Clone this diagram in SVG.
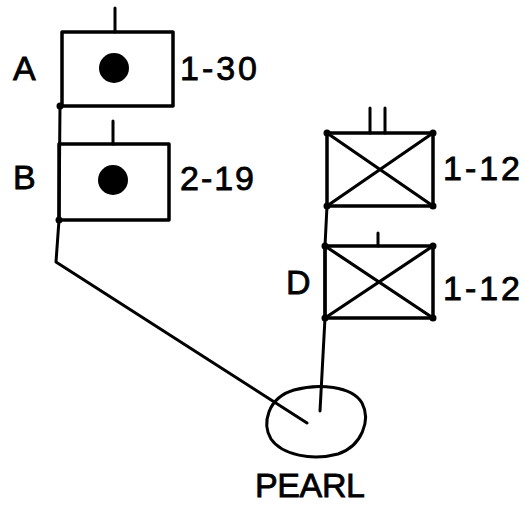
<svg xmlns="http://www.w3.org/2000/svg" width="526" height="508" viewBox="0 0 526 508">
<style>
.box{fill:none;stroke:#000;stroke-width:3.5;stroke-linejoin:round}
.ln{fill:none;stroke:#000;stroke-width:3;stroke-linecap:round;stroke-linejoin:round}
.x{stroke:#000;stroke-width:3.2;stroke-linecap:round}
.dot{fill:#000}
.t{font-family:"Liberation Sans",Arial,sans-serif;font-size:34px;fill:#000;stroke:#000;stroke-width:0.8}
</style>
<rect width="526" height="508" fill="#fff"/>
<g id="connectors">
<path class="ln" d="M60,106 L59,220 L56,262 L307,423"/>
<path class="ln" d="M327,206 L325,246 L325,318 L320,411"/>
</g>
<g id="A">
<rect class="box" x="62" y="32" width="111" height="74"/>
<line class="ln" x1="115" y1="8" x2="115" y2="32"/>
<circle class="dot" cx="114" cy="68" r="15"/>
<circle class="dot" cx="60" cy="106" r="3.5"/>
<text class="t" x="13" y="80">A</text>
<text class="t" x="180" y="80" textLength="77">1-30</text>
</g>
<g id="B">
<rect class="box" x="59" y="144" width="110" height="76"/>
<line class="ln" x1="113" y1="121" x2="113" y2="144"/>
<circle class="dot" cx="113" cy="180" r="15"/>
<circle class="dot" cx="59" cy="220" r="3.5"/>
<text class="t" x="13" y="189">B</text>
<text class="t" x="180" y="190" textLength="74">2-19</text>
</g>
<g id="C">
<rect class="box" x="327" y="133" width="106" height="73"/>
<line class="x" x1="327" y1="133" x2="433" y2="206"/>
<line class="x" x1="327" y1="206" x2="433" y2="133"/>
<line class="ln" x1="370" y1="108" x2="370" y2="133"/>
<line class="ln" x1="385" y1="108" x2="385" y2="133"/>
<circle class="dot" cx="327" cy="133" r="3.5"/>
<circle class="dot" cx="433" cy="133" r="3.5"/>
<circle class="dot" cx="327" cy="206" r="3.5"/>
<circle class="dot" cx="433" cy="206" r="3.5"/>
<text class="t" x="443" y="180" textLength="77">1-12</text>
</g>
<g id="D">
<rect class="box" x="325" y="246" width="108" height="72"/>
<line class="x" x1="325" y1="246" x2="433" y2="318"/>
<line class="x" x1="325" y1="318" x2="433" y2="246"/>
<line class="ln" x1="378" y1="233" x2="378" y2="246"/>
<circle class="dot" cx="325" cy="246" r="3.5"/>
<circle class="dot" cx="433" cy="246" r="3.5"/>
<circle class="dot" cx="325" cy="318" r="3.5"/>
<circle class="dot" cx="433" cy="318" r="3.5"/>
<text class="t" x="286" y="294">D</text>
<text class="t" x="443" y="300" textLength="77">1-12</text>
</g>
<g id="PEARL">
<path class="ln" d="M294,390 C318,383 352,386 362,403 C371,420 362,446 338,454 C312,461 282,455 271,439 C262,424 267,398 294,390 Z"/>
<text class="t" x="255" y="497" font-size="36" textLength="110">PEARL</text>
</g>
</svg>
